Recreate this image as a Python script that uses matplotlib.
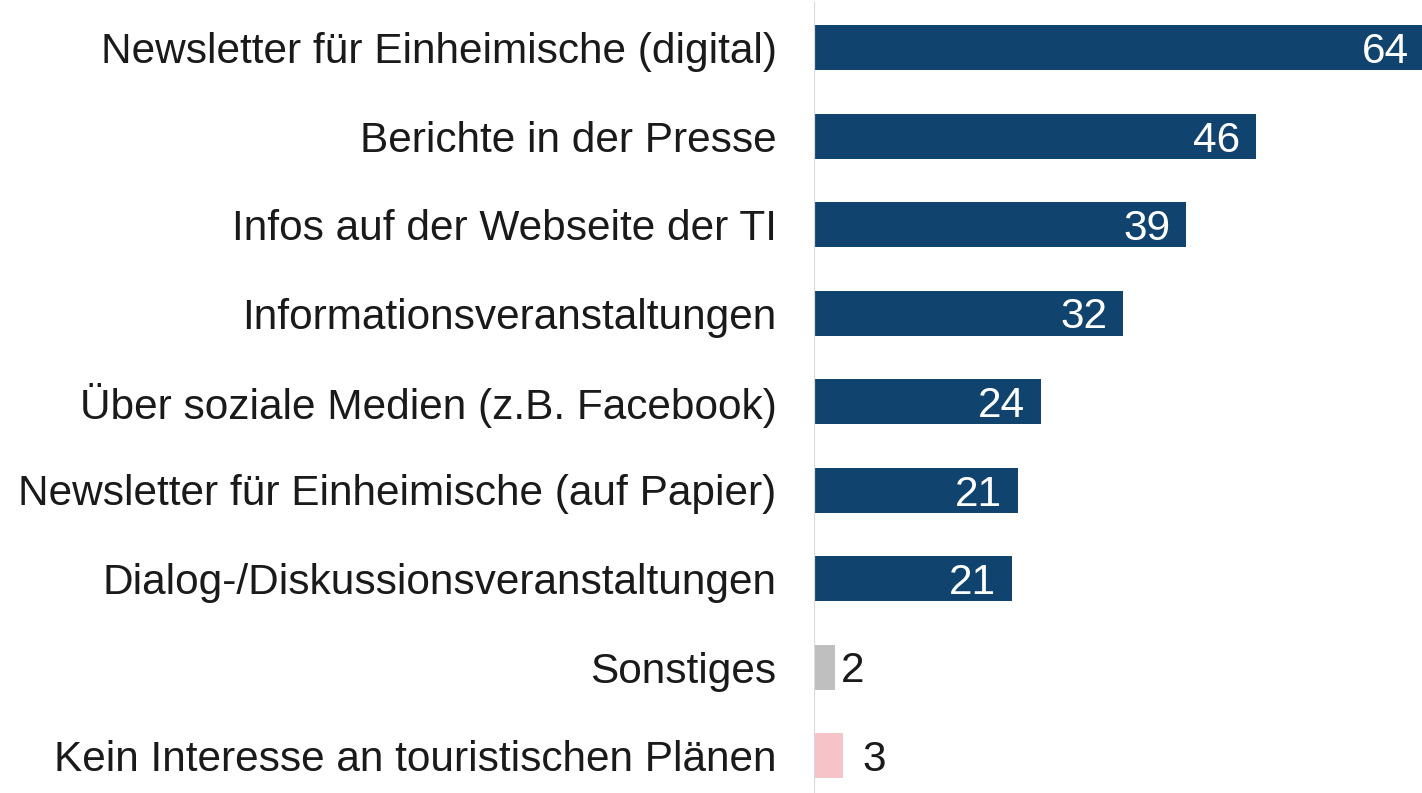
import matplotlib.pyplot as plt

categories = [
    "Newsletter für Einheimische (digital)",
    "Berichte in der Presse",
    "Infos auf der Webseite der TI",
    "Informationsveranstaltungen",
    "Über soziale Medien (z.B. Facebook)",
    "Newsletter für Einheimische (auf Papier)",
    "Dialog-/Diskussionsveranstaltungen",
    "Sonstiges",
    "Kein Interesse an touristischen Plänen",
]
values = [64.0, 46.3, 39.0, 32.4, 23.8, 21.4, 20.7, 2.2, 3.0]
labels = ["64", "46", "39", "32", "24", "21", "21", "2", "3"]

blue = "#10446f"
colors = [blue] * 7 + ["#bfbfbf", "#f6c3c8"]

plt.rcParams['font.family'] = ['Liberation Sans', 'DejaVu Sans']

W, H = 1422, 793
fig = plt.figure(figsize=(W / 100, H / 100), dpi=100)
x0 = 814
ax = fig.add_axes([x0 / W, 0, 1 - x0 / W, 1])

pitch = 88.5
first = 47.5
ypos = list(range(len(categories)))
ax.barh(ypos, values, height=45 / pitch, color=colors)

ax.set_xlim(0, (W - x0) / 9.55)
ax.set_ylim((H - first) / pitch, -first / pitch)

ax.axvline(0, ymin=0, ymax=1 - 3 / H, color="#d9d9d9", lw=1.6)

for s in ax.spines.values():
    s.set_visible(False)
ax.set_xticks([])
ax.set_yticks(ypos)
ax.set_yticklabels(categories, fontsize=30.5, color="#1a1a1a")
ax.tick_params(axis='y', length=0, pad=27)

outside_pad = {7: 4, 8: 14}
for i, (v, lab) in enumerate(zip(values, labels)):
    if i in outside_pad:
        ax.annotate(lab, (v, i), xytext=(outside_pad[i], 0), textcoords="offset points",
                    ha="left", va="center_baseline", fontsize=30.5, color="#1a1a1a",
                    annotation_clip=False)
    else:
        ax.annotate(lab, (v, i), xytext=(-11.5, 0), textcoords="offset points",
                    ha="right", va="center_baseline", fontsize=30.5, color="white",
                    annotation_clip=False)

fig.savefig("out.png", dpi=100)
